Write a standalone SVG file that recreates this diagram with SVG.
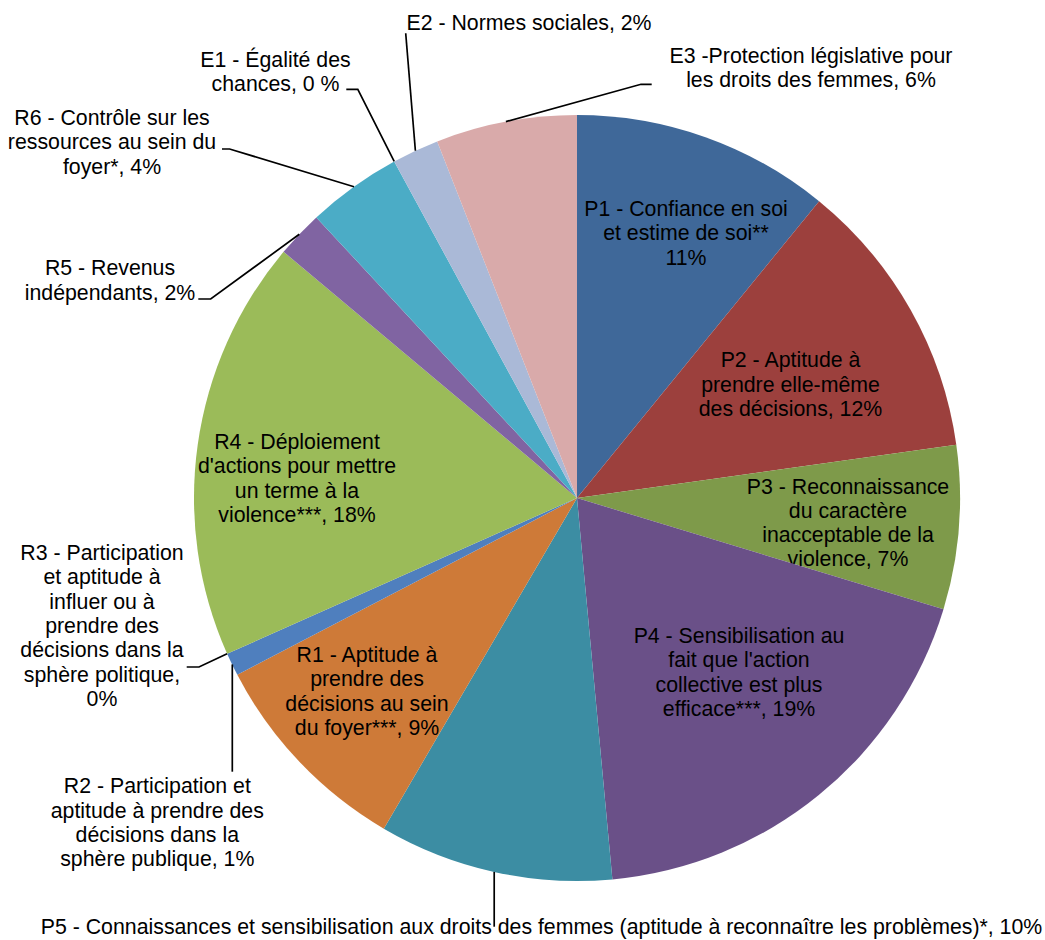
<svg xmlns="http://www.w3.org/2000/svg" width="1045" height="940" viewBox="0 0 1045 940">
<style>
text{font-family:"Liberation Sans",Arial,sans-serif;font-size:21.3px;fill:#000;text-anchor:middle}
.ld{fill:none;stroke:#000;stroke-width:1.7}
</style>
<rect width="1045" height="940" fill="#fff"/>
<g id="P1"><path d="M577,498 L577,115 A383,383 0 0 1 819.1,201.2 Z" fill="#3F6899"/>
<text><tspan x="686" y="215.5">P1 - Confiance en soi</tspan><tspan x="686" y="240">et estime de soi**</tspan><tspan x="686" y="264.5">11%</tspan></text></g>
<g id="P2"><path d="M577,498 L819.1,201.2 A383,383 0 0 1 956.3,444.7 Z" fill="#9C403D"/>
<text><tspan x="790.5" y="367.3">P2 - Aptitude à</tspan><tspan x="790.5" y="391.6">prendre elle-même</tspan><tspan x="790.5" y="416">des décisions, 12%</tspan></text></g>
<g id="P3"><path d="M577,498 L956.3,444.7 A383,383 0 0 1 943.5,609.3 Z" fill="#7E9A4A"/>
<text><tspan x="848" y="493.5">P3 - Reconnaissance</tspan><tspan x="848" y="517.8">du caractère</tspan><tspan x="848" y="542.1">inacceptable de la</tspan><tspan x="848" y="566.4">violence, 7%</tspan></text></g>
<g id="P4"><path d="M577,498 L943.5,609.3 A383,383 0 0 1 612.4,879.4 Z" fill="#6A5088"/>
<text><tspan x="739" y="643">P4 - Sensibilisation au</tspan><tspan x="739" y="667.3">fait que l'action</tspan><tspan x="739" y="691.6">collective est plus</tspan><tspan x="739" y="715.9">efficace***, 19%</tspan></text></g>
<g id="P5"><path d="M577,498 L612.4,879.4 A383,383 0 0 1 383.8,828.7 Z" fill="#3C8DA3"/>
<text x="541.5" y="934.3">P5 - Connaissances et sensibilisation aux droits des femmes (aptitude à reconnaître les problèmes)*, 10%</text></g>
<g id="R1"><path d="M577,498 L383.8,828.7 A383,383 0 0 1 237.3,674.8 Z" fill="#CE7A38"/>
<text><tspan x="367" y="662">R1 - Aptitude à</tspan><tspan x="367" y="686.3">prendre des</tspan><tspan x="367" y="710.6">décisions au sein</tspan><tspan x="367" y="734.9">du foyer***, 9%</tspan></text></g>
<g id="R2"><path d="M577,498 L237.3,674.8 A383,383 0 0 1 227.1,653.8 Z" fill="#4F7FBE"/>
<text><tspan x="157.3" y="793.3">R2 - Participation et</tspan><tspan x="157.3" y="817.5">aptitude à prendre des</tspan><tspan x="157.3" y="841.7">décisions dans la</tspan><tspan x="157.3" y="865.9">sphère publique, 1%</tspan></text></g>
<g id="R3">
<text><tspan x="102" y="560">R3 - Participation</tspan><tspan x="102" y="584.3">et aptitude à</tspan><tspan x="102" y="608.6">influer ou à</tspan><tspan x="102" y="632.9">prendre des</tspan><tspan x="102" y="657.2">décisions dans la</tspan><tspan x="102" y="681.5">sphère politique,</tspan><tspan x="102" y="705.8">0%</tspan></text></g>
<g id="R4"><path d="M577,498 L227.1,653.8 A383,383 0 0 1 283.6,251.8 Z" fill="#9BBB59"/>
<text><tspan x="297" y="449">R4 - Déploiement</tspan><tspan x="297" y="473.3">d'actions pour mettre</tspan><tspan x="297" y="497.6">un terme à la</tspan><tspan x="297" y="521.9">violence***, 18%</tspan></text></g>
<g id="R5"><path d="M577,498 L283.6,251.8 A383,383 0 0 1 316.3,217.4 Z" fill="#8064A2"/>
<text><tspan x="110" y="275">R5 - Revenus</tspan><tspan x="110" y="299.5">indépendants, 2%</tspan></text></g>
<g id="R6"><path d="M577,498 L316.3,217.4 A383,383 0 0 1 394.2,161.4 Z" fill="#4BACC6"/>
<text><tspan x="112" y="125">R6 - Contrôle sur les</tspan><tspan x="112" y="149.3">ressources au sein du</tspan><tspan x="112" y="173.5">foyer*, 4%</tspan></text></g>
<g id="E1">
<text><tspan x="275.5" y="66.5">E1 - Égalité des</tspan><tspan x="275.5" y="90.8">chances, 0 %</tspan></text></g>
<g id="E2"><path d="M577,498 L394.2,161.4 A383,383 0 0 1 437.2,141.4 Z" fill="#AAB9D7"/>
<text x="529" y="29.5">E2 - Normes sociales, 2%</text></g>
<g id="E3"><path d="M577,498 L437.2,141.4 A383,383 0 0 1 577,115 Z" fill="#D9AAAA"/>
<text><tspan x="811" y="63">E3 -Protection législative pour</tspan><tspan x="811" y="87.3">les droits des femmes, 6%</tspan></text></g>
<g id="connectors">
<polyline class="ld" points="651.7,84.3 641,84.3 505.9,121.6"/>
<polyline class="ld" points="405.7,33.3 415.4,150.7"/>
<polyline class="ld" points="346.3,89.3 357.8,89.3 394.2,161.4"/>
<polyline class="ld" points="222,149 229.6,149 354,186.7"/>
<polyline class="ld" points="198.3,299 210.7,299 299.3,234.3"/>
<polyline class="ld" points="186.7,667 199,667 227.1,653.8"/>
<polyline class="ld" points="232.3,664.4 232.3,771.7"/>
<polyline class="ld" points="494.2,871.9 494.2,926.7"/>
</g>
</svg>
